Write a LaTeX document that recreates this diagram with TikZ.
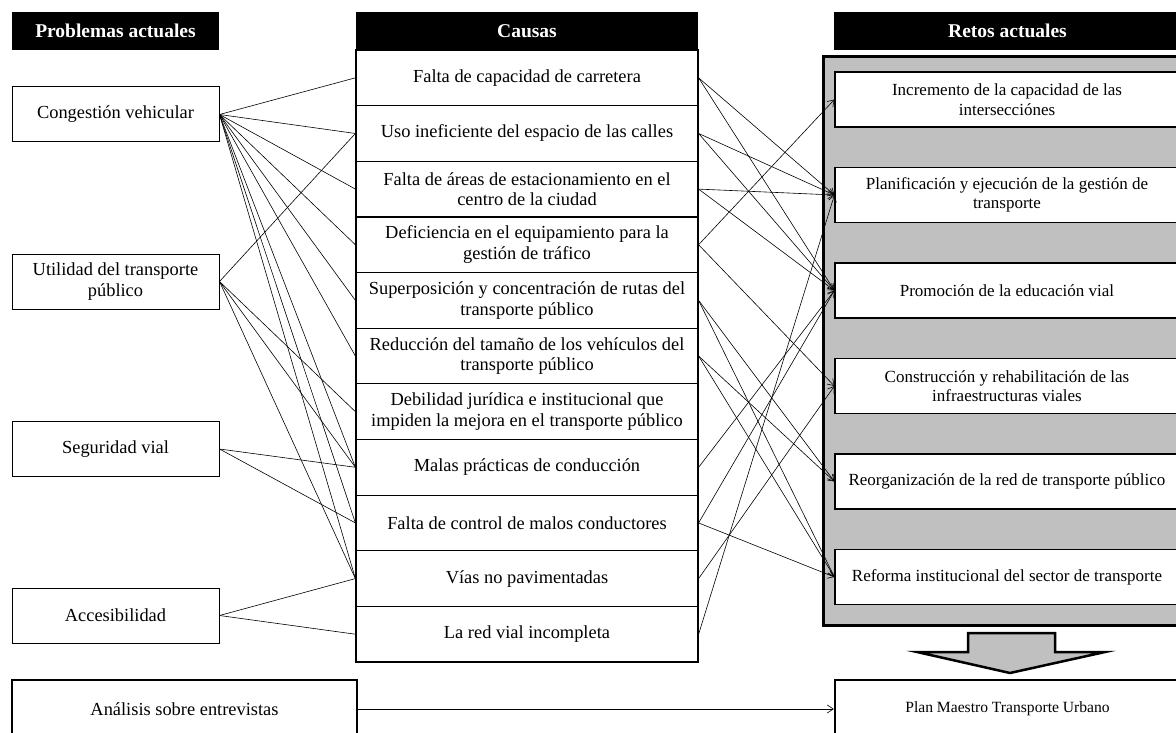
\documentclass[tikz,border=0pt]{standalone}
\usepackage{fontspec}
\setmainfont{Liberation Serif}
\usetikzlibrary{arrows.meta}
\definecolor{panelgray}{RGB}{192,192,192}
\begin{document}
\begin{tikzpicture}[x=1pt,y=-1pt,
  hdr/.style={fill=black, text=white, font=\fontsize{19.5}{22}\selectfont\bfseries,
    minimum height=38pt, inner sep=0pt},
  probbox/.style={draw, line width=1pt, fill=white, minimum width=207pt,
    minimum height=55pt, align=center, inner sep=0pt,
    font=\fontsize{18.4}{20.5}\selectfont},
  causebox/.style={draw, line width=1.2pt, fill=white, minimum width=342pt,
    minimum height=55.64pt, align=center, inner sep=0pt,
    font=\fontsize{18.4}{20.5}\selectfont},
  retobox/.style={draw, line width=1.2pt, fill=white, minimum width=344pt,
    minimum height=55pt, align=center, inner sep=0pt,
    font=\fontsize{17}{19.5}\selectfont},
  bottombox/.style={draw, line width=2.5pt, fill=white, minimum height=58pt,
    inner sep=0pt},
  link/.style={line width=0.6pt},
  arr/.style={line width=0.6pt, -{Straight Barb[length=6pt,width=8pt,line width=0.6pt]}}
]
\useasboundingbox (0,0) rectangle (1176,733);
\clip (0,0) rectangle (1176,733);

% column headers
\node[hdr, minimum width=207pt] (hp) at (115.5,31) {Problemas actuales};
\node[hdr, minimum width=342pt] (hc) at (527,31) {Causas};
\node[hdr, minimum width=347pt] (hr) at (1007.5,31) {Retos actuales};

% current problems
\node[probbox] (p1) at (115.5,114.5) {Congestión vehicular};
\node[probbox] (p2) at (115.5,281.5) {Utilidad del transporte\\público};
\node[probbox] (p3) at (115.5,449) {Seguridad vial};
\node[probbox] (p4) at (115.5,615.5) {Accesibilidad};

% causes
\node[causebox] (c1)  at (527,77.82)  {Falta de capacidad de carretera};
\node[causebox] (c2)  at (527,133.46) {Uso ineficiente del espacio de las calles};
\node[causebox] (c3)  at (527,189.10) {Falta de áreas de estacionamiento en el\\centro de la ciudad};
\node[causebox] (c4)  at (527,244.74) {Deficiencia en el equipamiento para la\\gestión de tráfico};
\node[causebox] (c5)  at (527,300.38) {Superposición y concentración de rutas del\\transporte público};
\node[causebox] (c6)  at (527,356.02) {Reducción del tamaño de los vehículos del\\transporte público};
\node[causebox] (c7)  at (527,411.66) {Debilidad jurídica e institucional que\\impiden la mejora en el transporte público};
\node[causebox] (c8)  at (527,467.30) {Malas prácticas de conducción};
\node[causebox] (c9)  at (527,522.94) {Falta de control de malos conductores};
\node[causebox] (c10) at (527,578.58) {Vías no pavimentadas};
\node[causebox] (c11) at (527,634.22) {La red vial incompleta};

% challenges panel
\node[draw, line width=3pt, fill=panelgray, minimum width=369pt,
  minimum height=568pt, inner sep=0pt] (panel) at (1007.5,341) {};
\node[retobox] (r1) at (1007,99.5)  {Incremento de la capacidad de las\\intersecciónes};
\node[retobox] (r2) at (1007,195)   {Planificación y ejecución de la gestión de\\transporte};
\node[retobox] (r3) at (1007,290.5) {Promoción de la educación vial};
\node[retobox] (r4) at (1007,386)   {Construcción y rehabilitación de las\\infraestructuras viales};
\node[retobox] (r5) at (1007,481.5) {Reorganización de la red de transporte público};
\node[retobox] (r6) at (1007,577)   {Reforma institucional del sector de transporte};

% block arrow down to the master plan
\draw[line width=2.5pt, fill=panelgray, line join=miter]
  (968,633) -- (1055,633) -- (1055,652) -- (1105,652) -- (1010,673)
  -- (917,652) -- (968,652) -- cycle;

% bottom row
\node[bottombox, minimum width=345pt, font=\fontsize{18.4}{20.5}\selectfont]
  (ana) at (184.5,709) {Análisis sobre entrevistas};
\node[bottombox, minimum width=345pt, font=\fontsize{15.6}{18}\selectfont]
  (plan) at (1007.5,709) {Plan Maestro Transporte Urbano};
\draw[arr] (ana.east) -- (plan.west);

% problems -> causes
\foreach \c in {c1,c2,c3,c4,c5,c6,c8,c9,c10}
  \draw[link] (p1.east) -- (\c.west);
\foreach \c in {c2,c7,c8,c10}
  \draw[link] (p2.east) -- (\c.west);
\foreach \c in {c8,c9}
  \draw[link] (p3.east) -- (\c.west);
\foreach \c in {c10,c11}
  \draw[link] (p4.east) -- (\c.west);

% causes -> challenges
\foreach \a/\b in {c1/r2,c1/r3,c2/r2,c2/r3,c3/r2,c3/r3,c4/r1,c4/r4,
                   c5/r5,c5/r6,c6/r5,c6/r6,c8/r3,c9/r3,c9/r6,c10/r4,c11/r2}
  \draw[arr] (\a.east) -- (\b.west);
\end{tikzpicture}
\end{document}
